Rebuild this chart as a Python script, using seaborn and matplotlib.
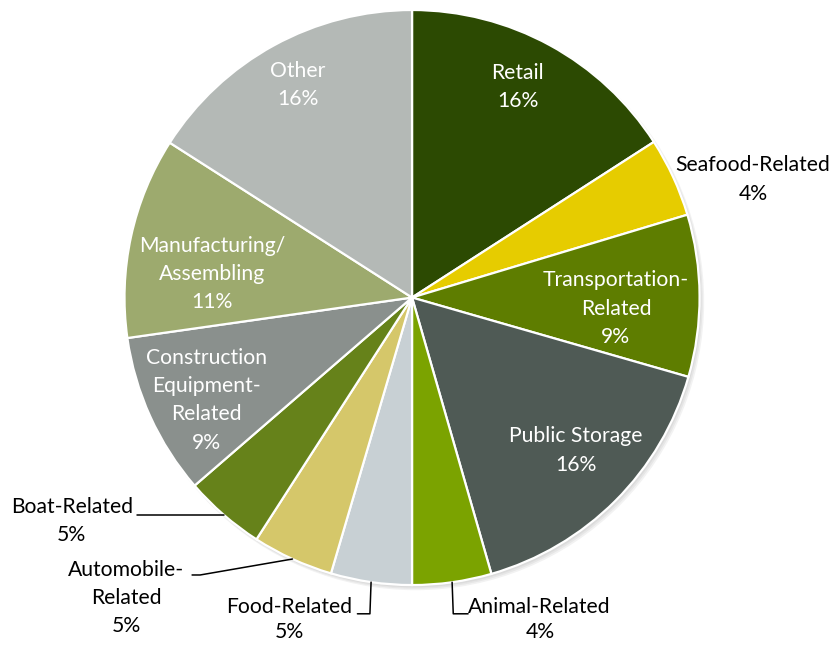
import numpy as np
import matplotlib
matplotlib.use("Agg")
import matplotlib.pyplot as plt
from matplotlib.patches import Circle
import seaborn as sns

sns.set_theme(style="white")
plt.rcParams['font.family'] = ['Lato', 'DejaVu Sans']

categories = ["Retail", "Seafood-Related", "Transportation-\nRelated", "Public Storage",
              "Animal-Related", "Food-Related", "Automobile-\nRelated", "Boat-Related",
              "Construction\nEquipment-\nRelated", "Manufacturing/\nAssembling", "Other"]
values = [15.9, 4.45, 9.1, 16.1, 4.45, 4.55, 4.55, 4.55, 9.1, 11.3, 15.95]
colors = ["#2C4A02", "#E6CC00", "#5E7D00", "#4F5A55", "#7BA300", "#C8D0D4",
          "#D5C76A", "#66821A", "#8A908D", "#9DAA6E", "#B4B9B6"]
inside = [True, False, True, True, False, False, False, False, True, True, True]

# label placement (radius factor, angle offset in degrees) for each slice
in_r = [0.82, 0, 0.71, 0.78, 0, 0, 0, 0, 0.80, 0.70, 0.84]
in_off = [2, 0, -3.5, 2.0, 0, 0, 0, 0, 2, 5.5, -0.5]

fig = plt.figure(figsize=(8.35, 6.46), dpi=100)
ax = fig.add_axes([0, 0, 1, 1])

# soft shadow under the pie
for k, a in enumerate([0.10, 0.10, 0.10]):
    ax.add_patch(Circle((0.006 + 0.003 * k, -0.008 - 0.003 * k), 1.0 + 0.002 * k,
                        facecolor="gray", edgecolor="none", alpha=a, zorder=0))

wedges, _ = ax.pie(values, colors=colors, startangle=90, counterclock=False,
                   radius=1.0, center=(0, 0),
                   wedgeprops=dict(edgecolor="white", linewidth=1.6, zorder=2))

ax.set_xlim(-1.433, 1.471)
ax.set_ylim(-1.212, 1.0348)
ax.set_aspect("auto")
ax.axis("off")

fs = 15.2
ls = 1.52
total = sum(values)
for i, w in enumerate(wedges):
    mid = np.deg2rad((w.theta1 + w.theta2) / 2)
    pct = "%.0f%%" % (values[i] / total * 100)
    txt = categories[i] + "\n" + pct
    if inside[i]:
        a = mid + np.deg2rad(in_off[i])
        ax.text(in_r[i] * np.cos(a), in_r[i] * np.sin(a), txt, color="white",
                ha="center", va="center", fontsize=fs, linespacing=ls, zorder=3)

def edge(theta_deg, r=1.0):
    t = np.deg2rad(theta_deg)
    return r * np.cos(t), r * np.sin(t)

def mid_edge(w):
    return edge((w.theta1 + w.theta2) / 2)

tk = dict(fontsize=fs, color="black", va="center")

# Seafood-Related (no leader line)
w = wedges[1]
x, y = edge((w.theta1 + w.theta2) / 2 - 5, 1.26)
ax.text(x, y - 0.015, categories[1] + "\n" + "%.0f%%" % (values[1] / total * 100),
        ha="center", linespacing=ls, **tk)

line_kw = dict(color="black", lw=1.1)

# Animal-Related
ex, ey = mid_edge(wedges[4])
ax.plot([ex, ex + 0.004, 0.195], [ey, -1.1, -1.1], **line_kw)
ax.text(0.195, -1.075, "Animal-Related", ha="left", **tk)
ax.text(0.445, -1.165, "%.0f%%" % (values[4] / total * 100), ha="center", **tk)

# Food-Related
ex, ey = mid_edge(wedges[5])
ax.plot([ex, ex - 0.004, -0.19], [ey, -1.1, -1.1], **line_kw)
ax.text(-0.208, -1.075, "Food-Related", ha="right", **tk)
ax.text(-0.425, -1.165, "%.0f%%" % (values[5] / total * 100), ha="center", **tk)

# Automobile-Related
ex, ey = mid_edge(wedges[6])
ax.plot([ex, -0.737, -0.765], [ey, -0.965, -0.965], **line_kw)
ax.text(-0.995, -1.045, categories[6] + "\n" + "%.0f%%" % (values[6] / total * 100),
        ha="center", linespacing=ls, **tk)

# Boat-Related
ex, ey = mid_edge(wedges[7])
ax.plot([ex, -0.957], [ey, ey], **line_kw)
ax.text(-1.183, ey + 0.025, "Boat-Related", ha="center", **tk)
ax.text(-1.183, ey - 0.07, "%.0f%%" % (values[7] / total * 100), ha="center", **tk)

fig.savefig("out.png", dpi=100)
